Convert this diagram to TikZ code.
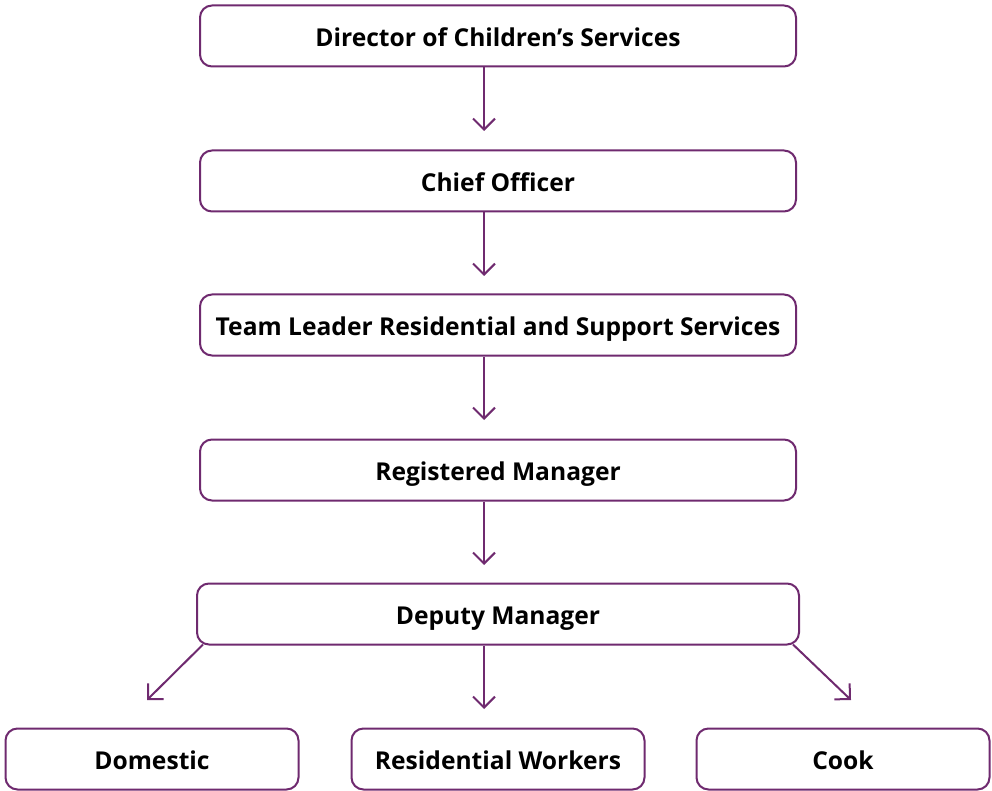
\documentclass[tikz,border=0pt]{standalone}
\usepackage{fontspec}
\setmainfont{Open Sans}
\usetikzlibrary{arrows.meta,positioning,calc}
\definecolor{plum}{HTML}{6F2A6F}
\tikzset{
  post/.style={draw=plum, line width=2pt, rounded corners=12pt, fill=white,
    minimum height=61pt, font=\fontsize{24.6}{28}\selectfont\bfseries, inner sep=0pt,
    text height=21pt, text depth=0pt},
  wide/.style={post, minimum width=596pt},
  narrow/.style={post, minimum width=293pt},
  link/.style={draw=plum, line width=2pt, -{Straight Barb[length=11pt,width=22pt,line width=2pt]}}
}
\begin{document}
\begin{tikzpicture}[x=1pt,y=-1pt]
\useasboundingbox (0,0) rectangle (992,791);
\node[wide]                      (dir) at (498,36)  {Director of Children’s Services};
\node[wide]                      (co)  at (498,181) {Chief Officer};
\node[wide]                      (tl)  at (498,325) {Team Leader Residential and Support Services};
\node[wide]                      (rm)  at (498,470) {Registered Manager};
\node[post, minimum width=602pt] (dm)  at (498,614) {Deputy Manager};
\node[narrow]                    (dom) at (152,759) {Domestic};
\node[narrow]                    (rw)  at (498,759) {Residential Workers};
\node[narrow]                    (ck)  at (843,759) {Cook};
% arrow ends
\coordinate (t1) at (484,131);
\coordinate (t2) at (484,276);
\coordinate (t3) at (484,420);
\coordinate (t4) at (484,565);
\coordinate (t5) at (147,700);
\coordinate (t6) at (484,709);
\coordinate (t7) at (851,700);
\draw[link] (dir.south -| t1) -- (t1);
\draw[link] (co.south -| t2) -- (t2);
\draw[link] (tl.south -| t3) -- (t3);
\draw[link] (rm.south -| t4) -- (t4);
\draw[link] ([xshift=7pt,yshift=1pt]dm.south west) -- (t5);
\draw[link] (dm.south -| t6) -- (t6);
\draw[link] ([xshift=-7pt,yshift=1pt]dm.south east) -- (t7);
\end{tikzpicture}
\end{document}
